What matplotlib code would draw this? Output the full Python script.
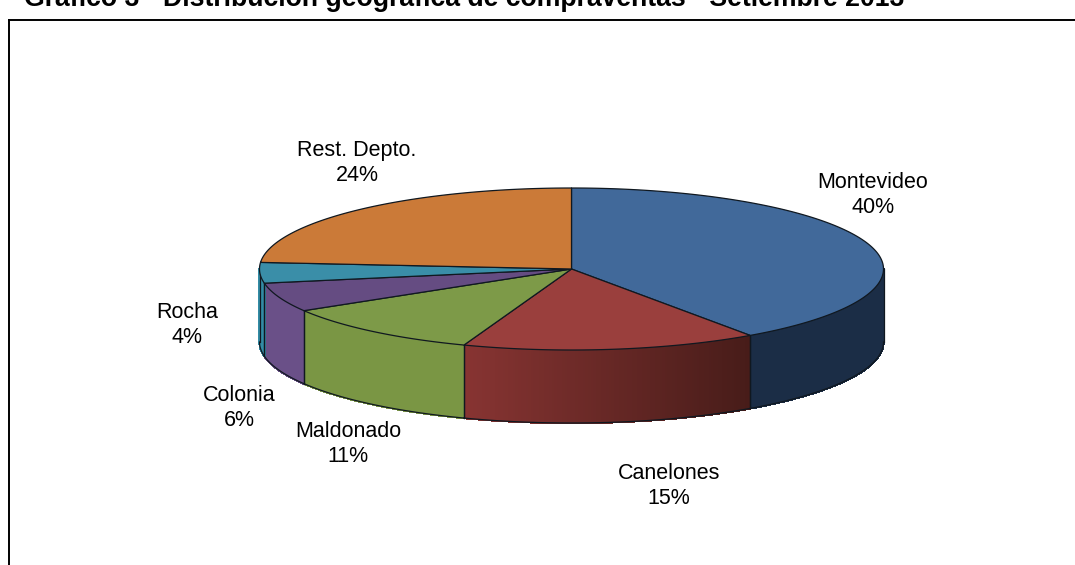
import numpy as np
import matplotlib
matplotlib.use("Agg")
import matplotlib.pyplot as plt
from matplotlib.colors import to_rgb

plt.rcParams['font.family'] = ['Liberation Sans', 'DejaVu Sans']

title = "Gráfico 3 - Distribución geográfica de compraventas - Setiembre 2013"
categories = ["Montevideo", "Canelones", "Maldonado", "Colonia", "Rocha", "Rest. Depto."]
values = [40.3, 15.3, 10.8, 5.8, 4.1, 23.7]

top_colors = ["#41699A", "#9A3F3D", "#7D9A48", "#654C82", "#3A8EA8", "#CB7A38"]
side_right = ["#1B2D46", "#471C19", "#7A9644", "#6A5088", "#338CA5", "#CB7A38"]
side_left = ["#1B2D46", "#873432", "#7A9644", "#6A5088", "#338CA5", "#CB7A38"]
label_pos = [(873, 195), (669, 486), (348, 444), (239, 408), (187, 325), (357, 163)]

W, H = 1075, 565
fig = plt.figure(figsize=(W / 100, H / 100), dpi=100)
ax = fig.add_axes([0, 0, 1, 1])
ax.set_xlim(0, W)
ax.set_ylim(H, 0)
ax.axis("off")

cx, cy, rx, ry, depth = 571.5, 269, 312, 81, 73
edge = "#101820"


def pt(t, dy=0):
    return cx + rx * np.sin(t), cy - ry * np.cos(t) + dy


fracs = np.cumsum([0] + values) / sum(values) * 2 * np.pi
fracs = np.asarray(fracs)

# side wall (only the front half of the disc is visible)
for i in range(len(values)):
    a = max(fracs[i], np.pi / 2)
    b = min(fracs[i + 1], 3 * np.pi / 2)
    if a >= b:
        continue
    n = max(int((b - a) * 120), 2)
    ts = np.linspace(a, b, n + 1)
    xl = pt(b)[0]
    xr = pt(a)[0]
    cl, cr = np.array(to_rgb(side_left[i])), np.array(to_rgb(side_right[i]))
    for t0, t1 in zip(ts[:-1], ts[1:]):
        x0, y0 = pt(t0)
        x1, y1 = pt(t1)
        f = ((x0 + x1) / 2 - xl) / max(xr - xl, 1)
        col = cl + (cr - cl) * f
        ax.fill([x0, x1, x1, x0], [y0, y1, y1 + depth, y0 + depth],
                color=col, lw=1.0, antialiased=False, zorder=2)
    x, y = pt(ts)
    ax.plot(x, y + depth, color=edge, lw=0.9, zorder=3)
    ax.plot([x[0], x[0]], [y[0], y[0] + depth], color=edge, lw=0.9, zorder=3)
    ax.plot([x[-1], x[-1]], [y[-1], y[-1] + depth], color=edge, lw=0.9, zorder=3)

# top face
for i in range(len(values)):
    ts = np.linspace(fracs[i], fracs[i + 1], 200)
    x, y = pt(ts)
    ax.fill(np.r_[cx, x], np.r_[cy, y], facecolor=top_colors[i],
            edgecolor=edge, lw=0.9, joinstyle="round", zorder=4)

# labels
for name, v, (lx, ly) in zip(categories, values, label_pos):
    ax.text(lx, ly, f"{name}\n{round(v)}%", ha="center", va="center", fontsize=15.5,
            color="black", linespacing=1.2, zorder=5)

# frame
ax.plot([8.5, 8.5], [H + 2, 20], color="black", lw=1.4, clip_on=True, zorder=6)
ax.plot([8.5, W + 2], [20, 20], color="black", lw=1.4, clip_on=True, zorder=6)

ax.text(24, 6, title, ha="left", va="baseline", fontsize=19.15,
        fontweight="bold", color="black", zorder=6)

fig.savefig("out.png", dpi=100, facecolor="white")
